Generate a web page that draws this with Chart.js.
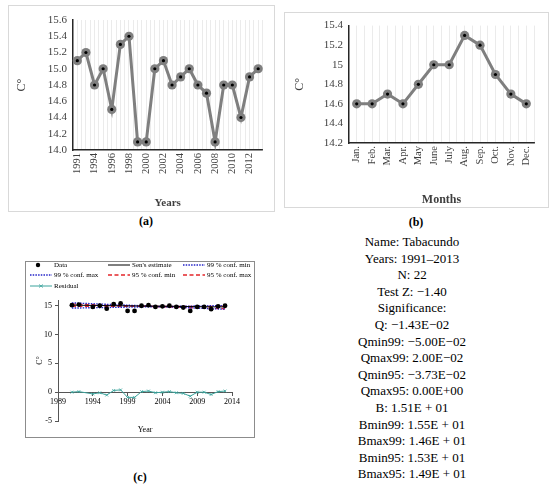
<!DOCTYPE html>
<html>
<head>
<meta charset="utf-8">
<script src="https://cdn.jsdelivr.net/npm/chart.js@4.4.1/dist/chart.umd.min.js"></script>
<style>
  body { margin: 0; background: #fff; }
  #page { position: relative; width: 550px; height: 485px; overflow: hidden;
          font-family: "Liberation Serif", "DejaVu Serif", serif; color: #000; }
  .panel { position: absolute; border: 1px solid #d9d9d9; background: #fff; }
  .panel canvas { display: block; }
  #pc { border-color: #8c8c8c; }
  .cap { position: absolute; font-weight: bold; font-size: 12px; transform: translate(-50%, -50%); }
  #stats { position: absolute; left: 330px; top: 234px; width: 164px; text-align: center;
           font-size: 13px; line-height: 16.6px; }
  .leg { position: absolute; font-size: 7px; line-height: 8px; white-space: nowrap;
         display: flex; align-items: center; transform: translateY(-50%); }
  .leg svg { margin-right: 2px; }
</style>
</head>
<body>
<div id="page">
  <div class="panel" style="left:8px;top:5px;"><canvas id="chartA" width="265" height="205"></canvas></div>
  <div class="panel" style="left:284px;top:12px;"><canvas id="chartB" width="263" height="194"></canvas></div>
  <div class="panel" id="pc" style="left:25px;top:261px;"><canvas id="chartC" width="228" height="175"></canvas></div>
  <div id="legendC"></div>
  <div class="cap" style="left:146px;top:221px;">(a)</div>
  <div class="cap" style="left:416px;top:222px;">(b)</div>
  <div class="cap" style="left:140px;top:477px;">(c)</div>
  <div id="stats"></div>
</div>
<script>
// annual mean temperature, Tabacundo (no 1993 record)
const yearLabels = ["1991", "1992", "1994", "1995", "1996", "1997", "1998", "1999", "2000", "2001", "2002",
  "2003", "2004", "2005", "2006", "2007", "2008", "2009", "2010", "2011", "2012", "2013"];
const annualTemp = [15.1, 15.2, 14.8, 15.0, 14.5, 15.3, 15.4, 14.1, 14.1, 15.0, 15.1,
  14.8, 14.9, 15.0, 14.8, 14.7, 14.1, 14.8, 14.8, 14.4, 14.9, 15.0];

// monthly mean temperature
const monthLabels = ["Jan.", "Feb.", "Mar.", "Apr.", "May", "June", "July", "Aug.", "Sep.", "Oct.", "Nov.", "Dec."];
const monthlyTemp = [14.6, 14.6, 14.7, 14.6, 14.8, 15.0, 15.0, 15.3, 15.2, 14.9, 14.7, 14.6];

// Sen's slope lines (start / end of period)
const trendYears = [1991, 2013];
const senEstimate = [15.1, 14.79];
const conf99Min = [15.5, 14.4];
const conf99Max = [14.6, 15.04];
const conf95Min = [15.3, 14.48];
const conf95Max = [14.9, 14.9];
const residuals = [0.0, 0.1, -0.3, -0.1, -0.5, 0.3, 0.4, -0.9, -0.9, 0.1, 0.2,
  -0.1, 0.0, 0.1, -0.1, -0.2, -0.7, 0.0, 0.0, -0.4, 0.1, 0.2];

const statLines = ["Name: Tabacundo", "Years: 1991–2013", "N: 22", "Test Z: −1.40", "Significance:",
  "Q: −1.43E−02", "Qmin99: −5.00E−02", "Qmax99: 2.00E−02", "Qmin95: −3.73E−02", "Qmax95: 0.00E+00",
  "B: 1.51E + 01", "Bmin99: 1.55E + 01", "Bmax99: 1.46E + 01", "Bmin95: 1.53E + 01", "Bmax95: 1.49E + 01"];

const SERIF = "'Liberation Serif', 'DejaVu Serif', serif";
Chart.defaults.font.family = SERIF;
Chart.defaults.animation = false;

function greyLine(canvasId, labels, values, opt) {
  return new Chart(document.getElementById(canvasId), {
    type: "line",
    data: {
      labels: labels,
      datasets: [
        { data: values, showLine: false, pointRadius: 1.6, pointBackgroundColor: "#000", pointBorderWidth: 0 },
        { data: values, borderColor: "#7f7f7f", borderWidth: 3, pointRadius: 4.6,
          pointBackgroundColor: "#7f7f7f", pointBorderColor: "#7f7f7f", pointBorderWidth: 0 }
      ]
    },
    options: {
      responsive: false,
      layout: { padding: opt.padding },
      plugins: { legend: { display: false }, tooltip: { enabled: false } },
      scales: {
        x: {
          offset: true,
          grid: { offset: false, color: "#e6e6e6", lineWidth: 0.8, drawTicks: false },
          border: { color: "#262626", width: 1.5 },
          ticks: { autoSkip: false, minRotation: 90, maxRotation: 90, padding: 3, color: "#3f3f3f",
                   font: { size: opt.xFont }, callback: opt.xTick },
          title: { display: true, text: opt.xTitle, color: "#3f3f3f", padding: { top: 0, bottom: opt.xTitlePad },
                   font: { size: opt.xTitleSize, weight: "bold" } },
          afterFit: (axis) => { axis.height = opt.xHeight; }
        },
        xb: {
          type: "category", offset: true, position: "bottom",
          grid: { offset: true, color: "#e6e6e6", lineWidth: 0.8, drawTicks: false },
          border: { display: false },
          ticks: { display: false },
          afterFit: (axis) => { axis.height = 0; }
        },
        y: {
          min: opt.min, max: opt.max,
          grid: { display: false, drawTicks: false },
          border: { color: "#262626", width: 1.5 },
          ticks: { stepSize: 0.2, padding: 6, color: "#3f3f3f", font: { size: 11 }, callback: opt.yTick },
          title: { display: true, text: "C°", color: "#3f3f3f", padding: { top: opt.yTitlePad, bottom: 0 },
                   font: { size: 12 } },
          afterFit: (axis) => { axis.width = opt.yWidth; }
        }
      }
    }
  });
}

greyLine("chartA", yearLabels, annualTemp, {
  padding: { top: 14, right: 10, left: 0, bottom: 0 },
  min: 14.0, max: 15.6, yWidth: 64, xHeight: 61, xFont: 10.5, xTitle: "Years", xTitleSize: 11, xTitlePad: 1,
  yTitlePad: 6,
  yTick: (v) => v.toFixed(1),
  xTick: function (val, i) { return i % 2 === 0 ? this.getLabelForValue(val) : ""; }
});

greyLine("chartB", monthLabels, monthlyTemp, {
  padding: { top: 12, right: 14, left: 0, bottom: 0 },
  min: 14.2, max: 15.4, yWidth: 64, xHeight: 64, xFont: 10.5, xTitle: "Months", xTitleSize: 12, xTitlePad: 0,
  yTitlePad: 8,
  yTick: (v) => String(+v.toFixed(1)),
  xTick: function (val) { return this.getLabelForValue(val); }
});

// panel (c): Sen's slope trend plot
const years = yearLabels.map(Number);
const pts = (xs, ys) => xs.map((x, i) => ({ x: x, y: ys[i] }));

const cDatasets = [
  { label: "Data", data: pts(years, annualTemp), showLine: false, pointRadius: 2.4,
    pointBackgroundColor: "#000", pointBorderWidth: 0, kind: "dot", color: "#000" },
  { label: "Sen's estimate", data: pts(trendYears, senEstimate), borderColor: "#000", borderWidth: 1,
    pointRadius: 0, color: "#000", dash: [] },
  { label: "99 % conf. min", data: pts(trendYears, conf99Min), borderColor: "#2424c8", borderWidth: 1.4,
    borderDash: [1.5, 1.2], pointRadius: 0, color: "#2424c8", dash: [1.5, 1.2] },
  { label: "99 % conf. max", data: pts(trendYears, conf99Max), borderColor: "#2424c8", borderWidth: 1.4,
    borderDash: [1.5, 1.2], pointRadius: 0, color: "#2424c8", dash: [1.5, 1.2] },
  { label: "95 % conf. min", data: pts(trendYears, conf95Min), borderColor: "#e3262a", borderWidth: 1.3,
    borderDash: [4, 2.5], pointRadius: 0, color: "#e3262a", dash: [4, 2.5] },
  { label: "95 % conf. max", data: pts(trendYears, conf95Max), borderColor: "#e3262a", borderWidth: 1.3,
    borderDash: [4, 2.5], pointRadius: 0, color: "#e3262a", dash: [4, 2.5] },
  { label: "Residual", data: pts(years, residuals), borderColor: "#3ba39c", borderWidth: 1,
    pointStyle: "crossRot", pointRadius: 2, pointBorderColor: "#3ba39c", pointBorderWidth: 0.8,
    kind: "cross", color: "#3ba39c", dash: [] }
];

new Chart(document.getElementById("chartC"), {
  type: "line",
  data: { datasets: cDatasets },
  options: {
    responsive: false,
    layout: { padding: { top: 38, right: 22, left: 0, bottom: 0 } },
    plugins: { legend: { display: false }, tooltip: { enabled: false } },
    scales: {
      x: {
        type: "linear", min: 1989, max: 2014, position: { y: 0 },
        grid: { drawOnChartArea: false, tickLength: 3, color: "#555" },
        border: { color: "#555", width: 1 },
        ticks: { stepSize: 5, padding: 2, color: "#000", font: { size: 8 }, callback: (v) => String(v) },
        afterFit: (axis) => { axis.height = 0; }
      },
      xt: {
        type: "linear", min: 1989, max: 2014, position: "bottom",
        grid: { display: false }, border: { display: false }, ticks: { display: false },
        title: { display: true, text: "Year", color: "#000", font: { size: 8 }, padding: { top: 0, bottom: 2 } },
        afterFit: (axis) => { axis.height = 16; }
      },
      y: {
        min: -5, max: 16,
        grid: { drawOnChartArea: false, tickLength: 3, color: "#555" },
        border: { color: "#555", width: 1 },
        ticks: { stepSize: 5, includeBounds: false, padding: 3, color: "#000", font: { size: 8 } },
        title: { display: true, text: "C°", color: "#000", font: { size: 8 }, padding: { top: 9, bottom: 0 } },
        afterFit: (axis) => { axis.width = 32; }
      }
    }
  }
});

// legend of panel (c), three columns like the original
const legendSlots = [[30, 265], [108, 265], [183, 265], [30, 275], [108, 275], [183, 275], [30, 286]];
const legendBox = document.getElementById("legendC");
cDatasets.forEach((ds, i) => {
  const [lx, ly] = legendSlots[i];
  let mark;
  if (ds.kind === "dot") {
    mark = `<circle cx="8" cy="3" r="2.2" fill="${ds.color}"/>`;
  } else {
    mark = `<line x1="0" y1="3" x2="22" y2="3" stroke="${ds.color}" stroke-width="${ds.borderWidth}"
             stroke-dasharray="${ds.dash.join(" ")}"/>`;
    if (ds.kind === "cross") {
      mark += `<path d="M9 1.5 L13 4.5 M13 1.5 L9 4.5" stroke="${ds.color}" stroke-width="0.8"/>`;
    }
  }
  const item = document.createElement("div");
  item.className = "leg";
  item.style.left = lx + "px";
  item.style.top = ly + "px";
  item.innerHTML = `<svg width="22" height="6">${mark}</svg><span>${ds.label}</span>`;
  legendBox.appendChild(item);
});

document.getElementById("stats").innerHTML = statLines.map((s) => `<div>${s}</div>`).join("");
</script>
</body>
</html>
